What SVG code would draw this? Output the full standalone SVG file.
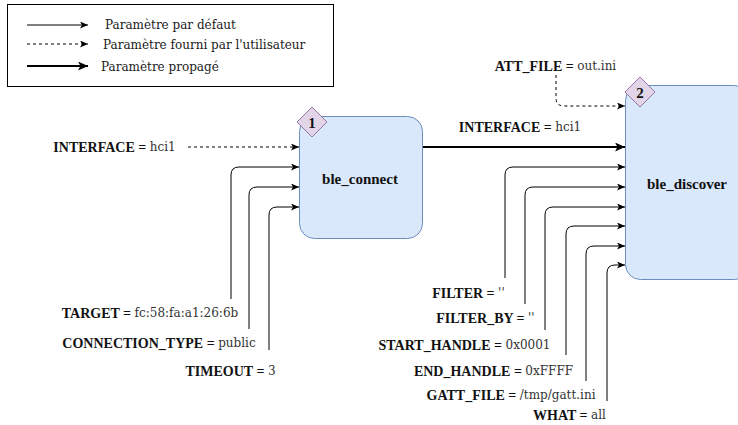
<svg xmlns="http://www.w3.org/2000/svg" width="738" height="425" viewBox="0 0 738 425">
  <style>
    .lbl { font-family: "Liberation Serif", "Times New Roman", serif; font-size: 14px; font-weight: bold; fill: #111; }
    .val { font-family: "DejaVu Serif", serif; font-size: 12px; font-weight: normal; fill: #333; }
    .leg { font-family: "DejaVu Serif", serif; font-size: 12px; fill: #1a1a1a; }
    .node { fill: #dae8fc; stroke: #6c8ebf; stroke-width: 1; }
    .badge { fill: #e1d5e7; stroke: #9673a6; stroke-width: 1; }
    .name { font-family: "Liberation Serif", "Times New Roman", serif; font-size: 15px; font-weight: bold; fill: #111; }
    .def { fill: none; stroke: #000; stroke-width: 1; marker-end: url(#arr); }
    .usr { fill: none; stroke: #000; stroke-width: 1; stroke-dasharray: 3 3; marker-end: url(#arr); }
    .prop { fill: none; stroke: #000; stroke-width: 2; marker-end: url(#arrBig); }
  </style>
  <defs>
    <marker id="arr" markerUnits="userSpaceOnUse" markerWidth="10" markerHeight="8" refX="8" refY="3.5" orient="auto">
      <path d="M0,0 L8,3.5 L0,7 L2,3.5 z" fill="#000"/>
    </marker>
    <marker id="arrBig" markerUnits="userSpaceOnUse" markerWidth="12" markerHeight="10" refX="10" refY="4.5" orient="auto">
      <path d="M0,0 L10,4.5 L0,9 L2.5,4.5 z" fill="#000"/>
    </marker>
  </defs>

  <g id="legend">
    <rect x="7.5" y="4.5" width="326" height="82" fill="#fff" stroke="#000" stroke-width="1"/>
    <path class="def" d="M27,25 H88"/>
    <path class="usr" d="M27,44 H88"/>
    <path class="prop" d="M27,66 H88"/>
    <text class="leg" x="105" y="25" dominant-baseline="central">Paramètre par défaut</text>
    <text class="leg" x="103" y="45" dominant-baseline="central">Paramètre fourni par l'utilisateur</text>
    <text class="leg" x="101" y="67" dominant-baseline="central">Paramètre propagé</text>
  </g>

  <g id="connectors">
    <path class="usr" d="M188,147 H299"/>
    <path class="def" d="M231,299 V175 Q231,167 239,167 H299"/>
    <path class="def" d="M249,329 V195 Q249,187 257,187 H299"/>
    <path class="def" d="M269,350 V215 Q269,207 277,207 H299"/>
    <path class="prop" d="M422,147 H625"/>
    <path class="usr" d="M556,75 V98 Q556,106 564,106 H625"/>
    <path class="def" d="M505,278 V175 Q505,167 513,167 H625"/>
    <path class="def" d="M525,304 V195 Q525,187 533,187 H625"/>
    <path class="def" d="M545,330 V215 Q545,207 553,207 H625"/>
    <path class="def" d="M566,355 V234 Q566,226 574,226 H625"/>
    <path class="def" d="M586,381 V254 Q586,246 594,246 H625"/>
    <path class="def" d="M607,401 V273 Q607,265 615,265 H625"/>
  </g>

  <g id="ble_connect">
    <rect class="node" x="299.5" y="116.5" width="123" height="122" rx="15"/>
    <text class="name" x="360" y="179" text-anchor="middle" dominant-baseline="central">ble_connect</text>
    <polygon class="badge" points="312,107 327,122 312,137 297,122"/>
    <text class="name" x="312" y="123" text-anchor="middle" dominant-baseline="central">1</text>
  </g>

  <g id="ble_discover">
    <rect class="node" x="625.5" y="85.5" width="124" height="194" rx="15"/>
    <text class="name" x="687" y="184" text-anchor="middle" dominant-baseline="central">ble_discover</text>
    <polygon class="badge" points="640,77 655,92 640,107 625,92"/>
    <text class="name" x="640" y="93" text-anchor="middle" dominant-baseline="central">2</text>
  </g>

  <g id="labels">
    <text x="114.5" y="147" text-anchor="middle" dominant-baseline="central"><tspan class="lbl">INTERFACE = </tspan><tspan class="val">hci1</tspan></text>
    <text x="150" y="313" text-anchor="middle" dominant-baseline="central"><tspan class="lbl">TARGET = </tspan><tspan class="val">fc:58:fa:a1:26:6b</tspan></text>
    <text x="159" y="343" text-anchor="middle" dominant-baseline="central"><tspan class="lbl">CONNECTION_TYPE = </tspan><tspan class="val">public</tspan></text>
    <text x="230.5" y="371" text-anchor="middle" dominant-baseline="central"><tspan class="lbl">TIMEOUT = </tspan><tspan class="val">3</tspan></text>
    <text x="555.5" y="66" text-anchor="middle" dominant-baseline="central"><tspan class="lbl">ATT_FILE = </tspan><tspan class="val">out.ini</tspan></text>
    <text x="520" y="127" text-anchor="middle" dominant-baseline="central"><tspan class="lbl">INTERFACE = </tspan><tspan class="val">hci1</tspan></text>
    <text x="468.5" y="293" text-anchor="middle" dominant-baseline="central"><tspan class="lbl">FILTER = </tspan><tspan class="val">''</tspan></text>
    <text x="485.5" y="318" text-anchor="middle" dominant-baseline="central"><tspan class="lbl">FILTER_BY = </tspan><tspan class="val">''</tspan></text>
    <text x="464.5" y="345" text-anchor="middle" dominant-baseline="central"><tspan class="lbl">START_HANDLE = </tspan><tspan class="val">0x0001</tspan></text>
    <text x="493.5" y="371" text-anchor="middle" dominant-baseline="central"><tspan class="lbl">END_HANDLE = </tspan><tspan class="val">0xFFFF</tspan></text>
    <text x="511" y="395" text-anchor="middle" dominant-baseline="central"><tspan class="lbl">GATT_FILE = </tspan><tspan class="val">/tmp/gatt.ini</tspan></text>
    <text x="569.5" y="415" text-anchor="middle" dominant-baseline="central"><tspan class="lbl">WHAT = </tspan><tspan class="val">all</tspan></text>
  </g>
</svg>
